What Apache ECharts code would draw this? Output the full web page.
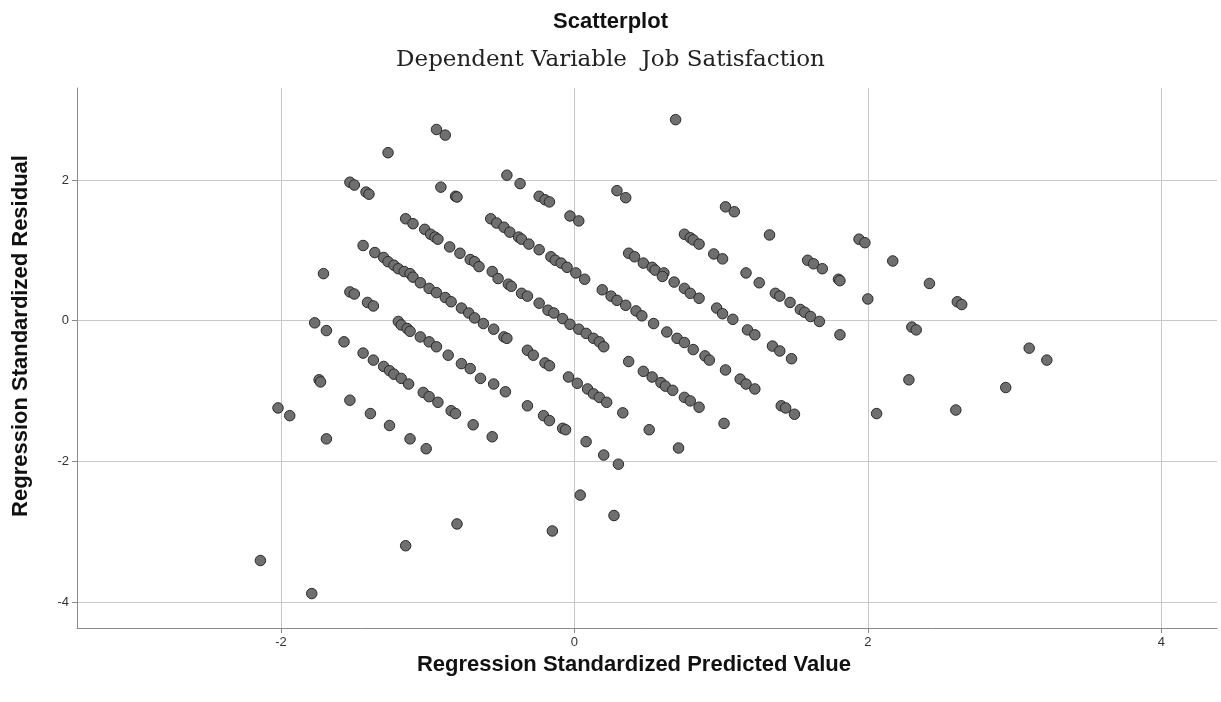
<!DOCTYPE html>
<html>
<head>
<meta charset="utf-8">
<script src="https://cdn.jsdelivr.net/npm/echarts@6/dist/echarts.min.js"></script>
<style>
html,body{margin:0;padding:0;background:#fff;}
#chart{width:1221px;height:702px;}
</style>
</head>
<body>
<div id="chart"></div>
<script>
// Regression standardized predicted value (x) and residual (y)
const predicted = [
  -0.94,-0.88,-1.27,0.69,-1.53,-1.50,-1.42,-1.40,-0.91,-0.81,-0.80,
  -1.15,-1.10,-1.02,-0.98,-0.95,-0.93,-0.85,-0.78,-0.71,-0.68,-0.65,-0.56,-0.52,-0.45,-0.43,-0.36,-0.32,-0.24,-0.18,-0.14,-0.08,-0.03,0.03,0.08,0.13,0.17,0.20,
  -1.44,-1.36,-1.30,-1.27,-1.23,-1.20,-1.16,-1.12,-1.10,-1.05,-0.99,-0.94,-0.88,-0.84,-0.77,-0.72,-0.68,-0.62,-0.55,-0.48,-0.46,-0.32,-0.28,-0.20,-0.17,
  -1.71,
  -0.46,-0.37,-0.24,-0.20,-0.17,-0.03,0.03,0.29,0.35,1.03,1.09,
  -0.57,-0.53,-0.48,-0.44,-0.38,-0.36,-0.31,-0.24,-0.16,-0.13,-0.09,-0.05,0.01,0.07,0.19,0.25,0.29,0.35,0.42,0.46,0.54,0.63,0.70,0.75,0.81,0.89,0.92,1.03,1.13,1.17,1.23,1.41,1.44,1.50,
  0.37,0.41,0.47,0.53,0.55,0.61,0.60,0.68,0.75,0.79,0.85,0.97,1.01,1.08,1.18,1.23,1.35,1.40,1.48,
  0.75,0.79,0.81,0.85,0.95,1.01,1.17,1.26,1.37,1.40,1.47,1.54,1.57,1.61,1.67,
  1.33,1.59,1.63,1.69,1.80,1.81,2.00,1.94,1.98,2.17,2.42,2.61,2.64,1.81,2.30,2.33,2.28,2.06,2.60,3.10,3.22,2.94,
  -1.53,-1.50,-1.41,-1.37,
  -1.77,-1.69,-1.57,-1.44,-1.37,-1.30,-1.26,-1.23,-1.18,-1.13,-1.03,-0.99,-0.93,-0.84,-0.81,-0.69,
  -1.20,-1.18,-1.14,-1.12,-1.05,-0.99,-0.94,-0.86,-0.77,-0.71,-0.64,-0.55,-0.47,-0.32,-0.21,-0.17,-0.08,-0.06,
  -1.74,-1.73,-1.53,-1.39,-1.26,-2.02,-1.94,-1.69,-1.12,-1.01,
  0.37,
  -0.04,0.02,0.09,0.13,0.17,0.22,
  0.47,0.53,0.59,0.62,0.67,0.75,0.79,0.85,1.02,0.33,0.51,
  -0.56,0.08,0.20,0.30,0.71,0.04,0.27,-0.15,-0.80,-1.15,-2.14,-1.79
];
const residual = [
  2.72,2.64,2.39,2.86,1.97,1.93,1.83,1.80,1.90,1.77,1.76,
  1.45,1.38,1.30,1.23,1.19,1.16,1.05,0.96,0.87,0.84,0.77,0.70,0.60,0.52,0.49,0.39,0.35,0.25,0.15,0.11,0.03,-0.05,-0.12,-0.18,-0.25,-0.30,-0.37,
  1.07,0.97,0.90,0.84,0.79,0.74,0.70,0.67,0.62,0.54,0.46,0.40,0.33,0.27,0.18,0.11,0.04,-0.04,-0.12,-0.23,-0.25,-0.42,-0.49,-0.60,-0.64,
  0.67,
  2.07,1.95,1.77,1.72,1.69,1.49,1.42,1.85,1.75,1.62,1.55,
  1.45,1.39,1.33,1.26,1.19,1.16,1.09,1.01,0.91,0.86,0.82,0.76,0.68,0.59,0.44,0.35,0.29,0.22,0.14,0.07,-0.04,-0.16,-0.25,-0.31,-0.41,-0.50,-0.56,-0.70,-0.83,-0.90,-0.97,-1.21,-1.24,-1.33,
  0.96,0.91,0.82,0.76,0.72,0.68,0.63,0.55,0.46,0.39,0.32,0.18,0.10,0.02,-0.13,-0.20,-0.36,-0.43,-0.54,
  1.23,1.18,1.15,1.09,0.95,0.88,0.68,0.54,0.39,0.35,0.26,0.16,0.12,0.06,-0.01,
  1.22,0.86,0.81,0.74,0.59,0.57,0.31,1.16,1.11,0.85,0.53,0.27,0.23,-0.20,-0.09,-0.13,-0.84,-1.32,-1.27,-0.39,-0.56,-0.95,
  0.41,0.38,0.26,0.21,
  -0.03,-0.14,-0.30,-0.46,-0.56,-0.65,-0.71,-0.76,-0.82,-0.90,-1.02,-1.08,-1.16,-1.28,-1.32,-1.48,
  -0.01,-0.06,-0.11,-0.15,-0.23,-0.30,-0.37,-0.49,-0.61,-0.68,-0.82,-0.90,-1.01,-1.21,-1.35,-1.42,-1.53,-1.55,
  -0.84,-0.87,-1.13,-1.32,-1.49,-1.24,-1.35,-1.68,-1.68,-1.82,
  -0.58,
  -0.80,-0.89,-0.97,-1.04,-1.09,-1.16,
  -0.72,-0.80,-0.88,-0.93,-0.99,-1.09,-1.14,-1.23,-1.46,-1.31,-1.55,
  -1.65,-1.72,-1.91,-2.04,-1.81,-2.48,-2.77,-2.99,-2.89,-3.20,-3.41,-3.88
];
const xTicks = [-2, 0, 2, 4];
const yTicks = [-4, -2, 0, 2];

const points = predicted.map((x, i) => [x, residual[i]]);

const chart = echarts.init(document.getElementById('chart'), null, {renderer: 'canvas'});
chart.setOption({
  animation: false,
  backgroundColor: '#ffffff',
  title: [
    {
      text: 'Scatterplot',
      left: 'center',
      top: 6,
      textStyle: {fontFamily: 'Liberation Sans', fontWeight: 'bold', fontSize: 22, color: '#111'}
    },
    {
      text: 'Dependent Variable  Job Satisfaction',
      left: 'center',
      top: 44,
      textStyle: {fontFamily: 'DejaVu Serif', fontWeight: 'normal', fontSize: 23, color: '#222'}
    }
  ],
  grid: {left: 77, right: 4, top: 88, bottom: 74, containLabel: false},
  xAxis: {
    type: 'value',
    min: -3.39,
    max: 4.38,
    name: 'Regression Standardized Predicted Value',
    nameLocation: 'middle',
    nameGap: 24,
    nameTextStyle: {fontFamily: 'Liberation Sans', fontWeight: 'bold', fontSize: 22, color: '#111', padding: [0, 26, 0, 0]},
    axisLine: {show: true, onZero: false, lineStyle: {color: '#8a8a8a', width: 1}},
    axisTick: {show: true, length: 5, customValues: xTicks, lineStyle: {color: '#8a8a8a'}},
    axisLabel: {customValues: xTicks, fontFamily: 'Liberation Sans', fontSize: 13, color: '#333', margin: 8},
    splitLine: {show: true, lineStyle: {color: '#c8c8c8', width: 1}}
  },
  yAxis: {
    type: 'value',
    min: -4.37,
    max: 3.31,
    name: 'Regression Standardized Residual',
    nameLocation: 'middle',
    nameGap: 45,
    nameTextStyle: {fontFamily: 'Liberation Sans', fontWeight: 'bold', fontSize: 22, color: '#111', padding: [0, 0, 0, 44]},
    axisLine: {show: true, onZero: false, lineStyle: {color: '#8a8a8a', width: 1}},
    axisTick: {show: true, length: 5, customValues: yTicks, lineStyle: {color: '#8a8a8a'}},
    axisLabel: {customValues: yTicks, fontFamily: 'Liberation Sans', fontSize: 13, color: '#333', margin: 8},
    splitLine: {show: true, lineStyle: {color: '#c8c8c8', width: 1}}
  },
  series: [{
    type: 'scatter',
    data: points,
    symbol: 'circle',
    symbolSize: 10.5,
    itemStyle: {color: '#6f6f6f', borderColor: '#2a2a2a', borderWidth: 1, opacity: 1}
  }]
});
</script>
</body>
</html>
